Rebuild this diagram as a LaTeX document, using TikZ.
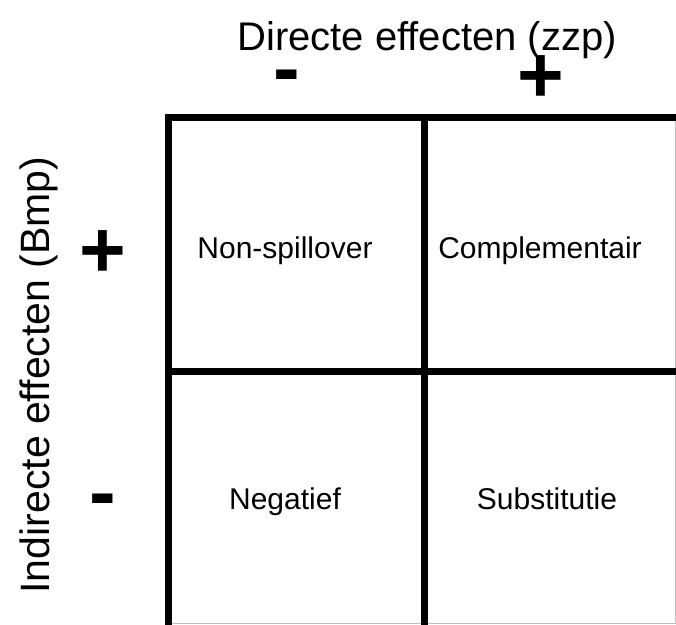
\documentclass[tikz,border=0pt]{standalone}
\usepackage{fontspec}
\setmainfont{Liberation Sans}
\begin{document}
\begin{tikzpicture}[x=1pt,y=-1pt,
  gridline/.style={line width=7pt,black},
  edgeline/.style={line width=1pt,black!25},
  axislabel/.style={font=\fontsize{40}{48}\selectfont,inner sep=0pt,anchor=base},
  signlabel/.style={font=\fontsize{80}{96}\selectfont\bfseries,inner sep=0pt,anchor=base},
  celllabel/.style={font=\fontsize{30}{36}\selectfont,inner sep=0pt,anchor=base}]
\useasboundingbox (0,0) rectangle (676,624);
\fill[white] (0,0) rectangle (676,624);

% grid corners
\coordinate (tl) at (168.5,117);
\coordinate (tm) at (424,117);
\coordinate (tr) at (690,117);
\coordinate (ml) at (168.5,371.5);
\coordinate (mr) at (690,371.5);
\coordinate (bl) at (168.5,640);
\coordinate (bm) at (424,640);

% faint outer edges
\coordinate (er1) at (675.5,120);
\coordinate (er2) at (675.5,624);
\coordinate (eb1) at (172,623.5);
\coordinate (eb2) at (676,623.5);
\draw[edgeline] (er1) -- (er2);
\draw[edgeline] (eb1) -- (eb2);

% grid lines
\draw[gridline] (tr) -- (tl) -- (bl);
\draw[gridline] (tm) -- (bm);
\draw[gridline] (ml) -- (mr);

% axis titles
\node[axislabel] (xtitle) at (427,50) {Directe effecten (zzp)};
\node[axislabel,rotate=90,font=\fontsize{41}{49}\selectfont] (ytitle) at (49,375) {Indirecte effecten (Bmp)};

% signs
\node[signlabel] (xminus) at (286.5,95) {-};
\node[signlabel] (xplus) at (541,102) {+};
\node[signlabel] (yplus) at (103,277) {+};
\node[signlabel] (yminus) at (103,519) {-};

% quadrant labels
\node[celllabel] (q1) at (285,258) {Non-spillover};
\node[celllabel] (q2) at (540,258) {Complementair};
\node[celllabel] (q3) at (285,509) {Negatief};
\node[celllabel] (q4) at (547,509) {Substitutie};
\end{tikzpicture}
\end{document}
